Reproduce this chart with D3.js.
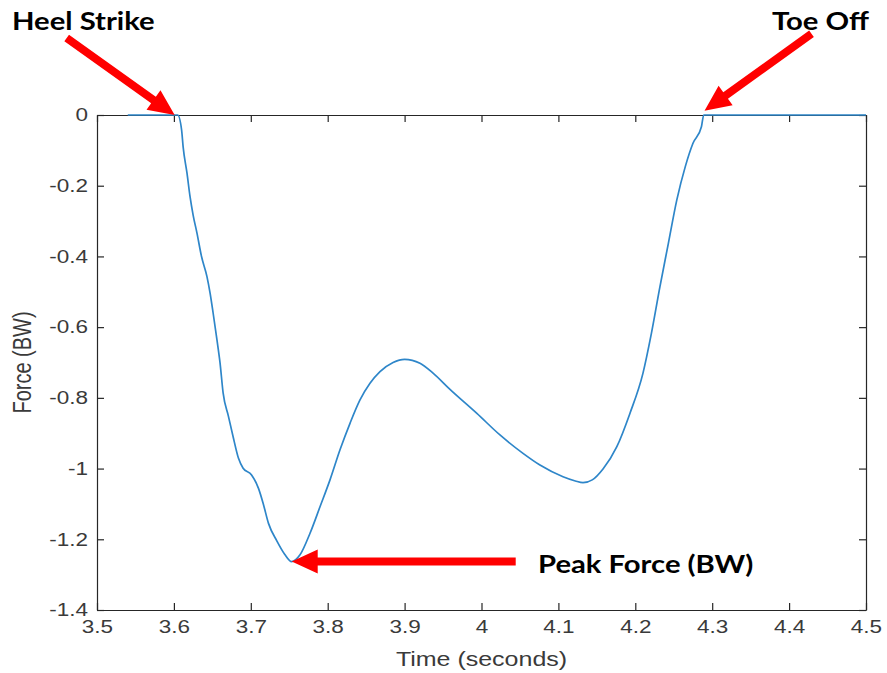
<!DOCTYPE html>
<html>
<head>
<meta charset="utf-8">
<script src="https://cdn.jsdelivr.net/npm/d3@7"></script>
<style>
  body { margin: 0; background: #fff; }
  svg { display: block; }
  .axis path, .axis line { stroke: #262626; stroke-width: 1.2; }
  .axis text { fill: #3a3a3a; font-family: "Liberation Sans", Arial, sans-serif; font-size: 18px; }
  .note { font-family: Lato, "Open Sans", sans-serif; font-weight: bold; font-size: 25px; fill: #000; }
</style>
</head>
<body>
<div class="stage"></div>
<script>
// force trace (time in s, force in BW)
var time = [3.540, 3.605, 3.610, 3.612, 3.617, 3.621, 3.625, 3.630, 3.636, 3.643,
  3.647, 3.651, 3.656, 3.660, 3.664, 3.671, 3.677, 3.684, 3.690, 3.701,
  3.710, 3.716, 3.723, 3.734, 3.744, 3.753, 3.764, 3.777, 3.790, 3.803,
  3.816, 3.829, 3.842, 3.855, 3.868, 3.885, 3.900, 3.920, 3.937, 3.959,
  3.994, 4.024, 4.054, 4.076, 4.106, 4.122, 4.132, 4.144, 4.158, 4.176,
  4.193, 4.210, 4.221, 4.232, 4.243, 4.254, 4.265, 4.275, 4.286, 4.289,
  4.500];
var force = [0, 0, -0.042, -0.090, -0.164, -0.231, -0.283, -0.334, -0.401, -0.457,
  -0.503, -0.560, -0.636, -0.701, -0.786, -0.853, -0.910, -0.971, -0.999, -1.018,
  -1.056, -1.098, -1.155, -1.205, -1.242, -1.263, -1.244, -1.183, -1.108, -1.032,
  -0.947, -0.872, -0.806, -0.759, -0.726, -0.700, -0.691, -0.702, -0.730, -0.776,
  -0.844, -0.905, -0.957, -0.990, -1.023, -1.035, -1.040, -1.032, -1.001, -0.938,
  -0.844, -0.730, -0.617, -0.486, -0.363, -0.240, -0.146, -0.080, -0.033, 0,
  0];

var xTicks = [3.5, 3.6, 3.7, 3.8, 3.9, 4.0, 4.1, 4.2, 4.3, 4.4, 4.5];
var xTickLabels = ["3.5", "3.6", "3.7", "3.8", "3.9", "4", "4.1", "4.2", "4.3", "4.4", "4.5"];
var yTicks = [0, -0.2, -0.4, -0.6, -0.8, -1.0, -1.2, -1.4];
var yTickLabels = ["0", "-0.2", "-0.4", "-0.6", "-0.8", "-1", "-1.2", "-1.4"];

var notes = [
  {label: "Heel Strike", t: 3.601, v: 0, tail: [-108, -77], text: [12, 30]},
  {label: "Toe Off", t: 4.290, v: 0.012, tail: [107, -77], text: [772, 30]},
  {label: "Peak Force (BW)", t: 3.7532, v: -1.263, tail: [224, 0], text: [538, 573]}
];

var W = 887, H = 673, stretch = 1.25, noteStretch = 1.17;
var m = {left: 97, right: 21, top: 115, bottom: 63};

var svg = d3.select(".stage").append("svg")
  .attr("width", W)
  .attr("height", H);

var x = d3.scaleLinear().domain([3.5, 4.5]).range([m.left, W - m.right]);
var y = d3.scaleLinear().domain([-1.4, 0]).range([H - m.bottom, m.top]);

function fmt(ticks, labels) {
  return function(d){ return labels[ticks.indexOf(d)] }
}

var gx = svg.append("g").attr("class", "axis")
  .attr("transform", "translate(0," + y(-1.4) + ")")
  .call(d3.axisBottom(x).tickValues(xTicks).tickFormat(fmt(xTicks, xTickLabels))
    .tickSize(-7).tickSizeOuter(0).tickPadding(10));
gx.selectAll("text").attr("transform", "scale(" + stretch + ",1)");

svg.append("g").attr("class", "axis")
  .attr("transform", "translate(0," + y(0) + ")")
  .call(d3.axisTop(x).tickValues(xTicks).tickFormat("").tickSize(-7).tickSizeOuter(0));

var gy = svg.append("g").attr("class", "axis")
  .attr("transform", "translate(" + x(3.5) + ",0)")
  .call(d3.axisLeft(y).tickValues(yTicks).tickFormat(fmt(yTicks, yTickLabels))
    .tickSize(-7).tickSizeOuter(0).tickPadding(9));
gy.selectAll("text")
  .attr("x", -9 / stretch)
  .attr("transform", "scale(" + stretch + ",1)");

svg.append("g").attr("class", "axis")
  .attr("transform", "translate(" + x(4.5) + ",0)")
  .call(d3.axisRight(y).tickValues(yTicks).tickFormat("").tickSize(-7).tickSizeOuter(0));

// axis titles
svg.append("text")
  .attr("transform", "translate(" + (x(3.5) + x(4.5)) / 2 + ",666) scale(" + stretch + ",1)")
  .attr("text-anchor", "middle")
  .style("font-family", '"Liberation Sans", Arial, sans-serif')
  .style("font-size", "20px")
  .style("fill", "#3a3a3a")
  .text("Time (seconds)");

svg.append("text")
  .attr("transform", "translate(31," + (y(0) + y(-1.4)) / 2 + ") rotate(-90) scale(1," + stretch + ")")
  .attr("text-anchor", "middle")
  .style("font-family", '"Liberation Sans", Arial, sans-serif')
  .style("font-size", "20px")
  .style("fill", "#3a3a3a")
  .text("Force (BW)");

// the trace
var pts = time.map(function(t, i){ return [t, force[i]] });
svg.append("path")
  .datum(pts)
  .attr("fill", "none")
  .attr("stroke", "#2e86c9")
  .attr("stroke-width", 1.7)
  .attr("stroke-linejoin", "round")
  .attr("d", d3.line()
    .x(function(d){ return x(d[0]) })
    .y(function(d){ return y(d[1]) })
    .curve(d3.curveMonotoneX));

// red arrows and labels
function arrow(tx, ty, px, py){
  var dx = px - tx, dy = py - ty, len = Math.sqrt(dx*dx + dy*dy);
  var ux = dx/len, uy = dy/len, nx = -uy, ny = ux;
  var sw = 4, hw = 12, hl = 26;
  var bx = px - ux*hl, by = py - uy*hl;
  return [
    [tx + nx*sw, ty + ny*sw], [bx + nx*sw, by + ny*sw], [bx + nx*hw, by + ny*hw],
    [px, py],
    [bx - nx*hw, by - ny*hw], [bx - nx*sw, by - ny*sw], [tx - nx*sw, ty - ny*sw]
  ];
}

notes.forEach(function(n){
  var px = x(n.t), py = y(n.v);
  svg.append("polygon")
    .attr("points", arrow(px + n.tail[0], py + n.tail[1], px, py).join(" "))
    .attr("fill", "#ff0000");
  svg.append("text")
    .attr("class", "note")
    .attr("transform", "translate(" + n.text[0] + "," + n.text[1] + ") scale(" + noteStretch + ",1)")
    .text(n.label);
});
</script>
</body>
</html>
